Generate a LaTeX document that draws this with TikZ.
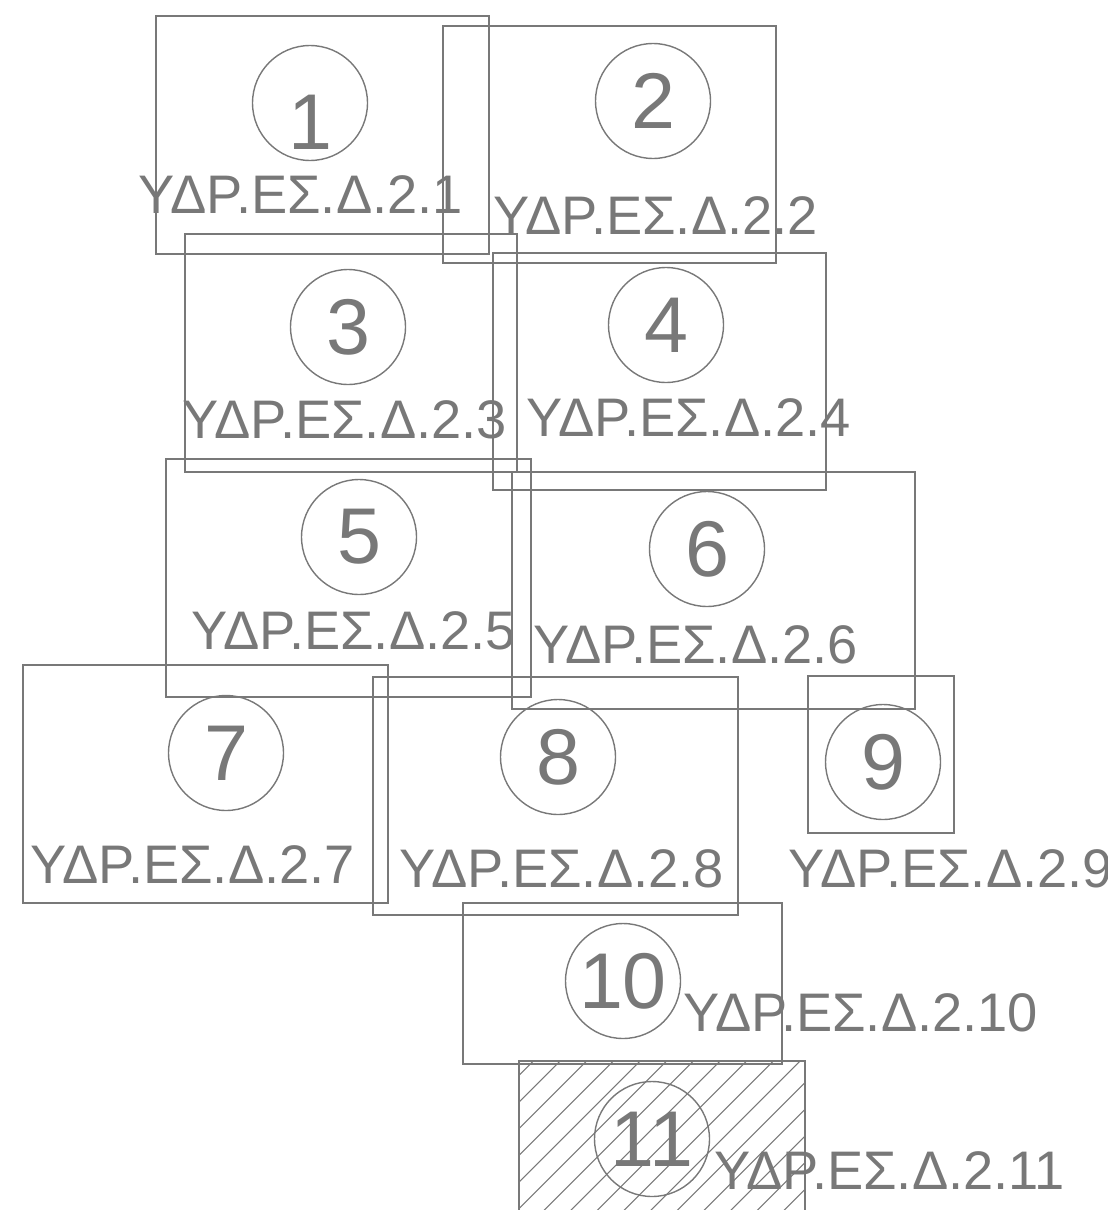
\documentclass[tikz,border=0pt]{standalone}
\usepackage{fontspec}
\setmainfont{Liberation Sans}
\definecolor{plangray}{RGB}{120,120,120}
\tikzset{
  parcel/.style={draw=plangray, line width=0.85pt},
  ring/.style={circle, draw=plangray, line width=0.8pt, minimum size=2.3cm, inner sep=0pt},
  numtext/.style={text=plangray, inner sep=0pt, font=\fontsize{45}{54}\selectfont},
  plabel/.style={text=plangray, inner sep=0pt, anchor=base west, font=\fontsize{30.9}{37}\selectfont},
  hatch/.style={draw=plangray, line width=0.6pt}
}

\begin{document}
\begin{tikzpicture}[x=0.02cm, y=-0.02cm]
		%%%%% START %%%%%
		\useasboundingbox (0, 0) rectangle (1108, 1210);
		
		\draw[parcel] (156, 16) rectangle (489, 254);
		\node[ring] (c1) at (310, 103) {};
		\node[numtext] (n1) at (310, 122) {1};
		\node[plabel] (l1) at (138, 213) {ΥΔΡ.ΕΣ.Δ.2.1};
		
		\draw[parcel] (443, 26) rectangle (776, 263);
		\node[ring] (c2) at (653, 101) {};
		\node[numtext] (n2) at (c2) {2};
		\node[plabel] (l2) at (493, 234) {ΥΔΡ.ΕΣ.Δ.2.2};
		
		\draw[parcel] (185, 234) rectangle (517, 472);
		\node[ring] (c3) at (348, 327) {};
		\node[numtext] (n3) at (c3) {3};
		\node[plabel] (l3) at (182, 438) {ΥΔΡ.ΕΣ.Δ.2.3};
		
		\draw[parcel] (493, 253) rectangle (826, 490);
		\node[ring] (c4) at (666, 325) {};
		\node[numtext] (n4) at (c4) {4};
		\node[plabel] (l4) at (526, 436) {ΥΔΡ.ΕΣ.Δ.2.4};
		
		\draw[parcel] (166, 459) rectangle (531, 697);
		\node[ring] (c5) at (359, 537) {};
		\node[numtext] (n5) at (c5) {5};
		\node[plabel] (l5) at (191, 649) {ΥΔΡ.ΕΣ.Δ.2.5};
		
		\draw[parcel] (512, 472) rectangle (915, 709);
		\node[ring] (c6) at (707, 549) {};
		\node[numtext] (n6) at (c6) {6};
		\node[plabel] (l6) at (533, 663) {ΥΔΡ.ΕΣ.Δ.2.6};
		
		\draw[parcel] (23, 665) rectangle (388, 903);
		\node[ring] (c7) at (226, 753) {};
		\node[numtext] (n7) at (c7) {7};
		\node[plabel] (l7) at (30, 883) {ΥΔΡ.ΕΣ.Δ.2.7};
		
		\draw[parcel] (373, 677) rectangle (738, 915);
		\node[ring] (c8) at (558, 757) {};
		\node[numtext] (n8) at (c8) {8};
		\node[plabel] (l8) at (399, 887) {ΥΔΡ.ΕΣ.Δ.2.8};
		
		\draw[parcel] (808, 676) rectangle (954, 833);
		\node[ring] (c9) at (883, 762) {};
		\node[numtext] (n9) at (c9) {9};
		\node[plabel] (l9) at (788, 887) {ΥΔΡ.ΕΣ.Δ.2.9};
		
		\draw[parcel] (463, 903) rectangle (782, 1064);
		\node[ring] (c10) at (623, 981) {};
		\node[numtext] (n10) at (c10) {10};
		\node[plabel] (l10) at (683, 1031) {ΥΔΡ.ΕΣ.Δ.2.10};
		
		\begin{scope}
			\clip (519, 1061) rectangle (805, 1240);
			\foreach \k in {-2,...,17}
				\draw[hatch] ({560+26.67*\k}, 1061) -- ++(-220, 220);
		\end{scope}
		\draw[parcel] (519, 1061) rectangle (805, 1240);
		\node[ring] (c11) at (652, 1139) {};
		\node[numtext] (n11) at (c11) {11};
		\node[plabel] (l11) at (714, 1189) {ΥΔΡ.ΕΣ.Δ.2.11};
		%%%%% END %%%%%
\end{tikzpicture}
\end{document}
